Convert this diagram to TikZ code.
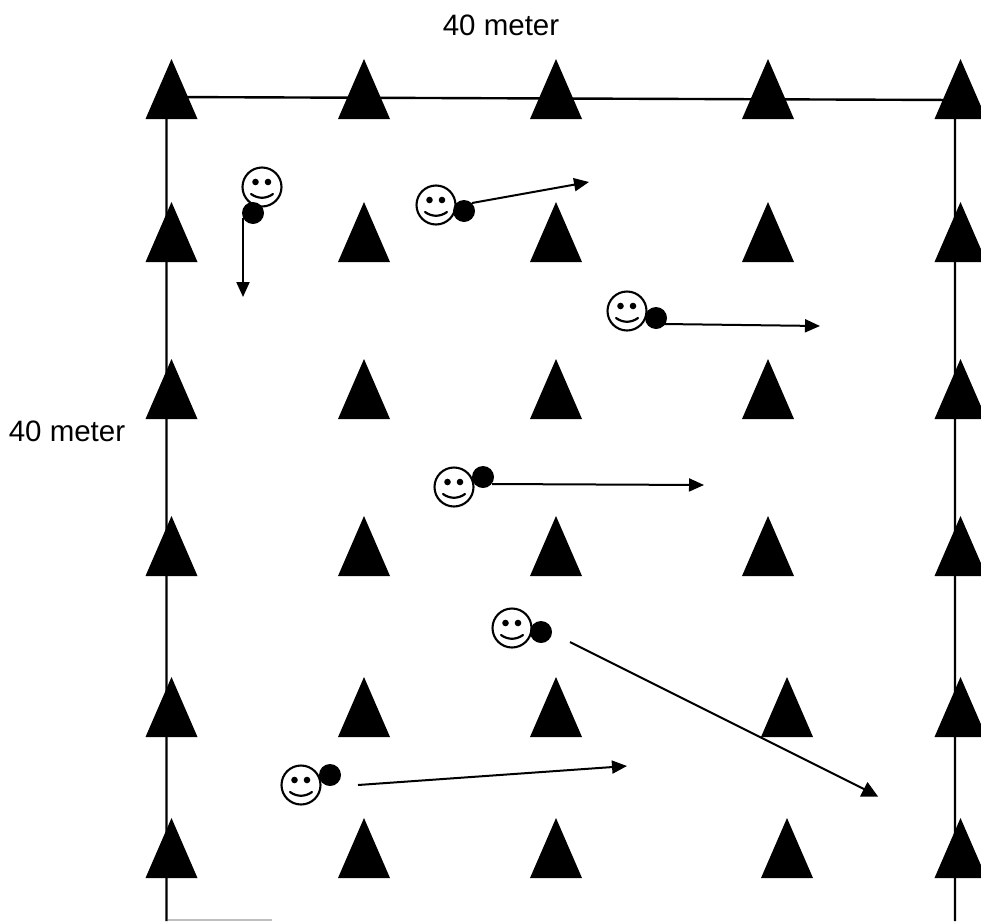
\documentclass[tikz,border=0pt]{standalone}
\usepackage{fontspec}
\setmainfont{Liberation Sans}
\usetikzlibrary{arrows.meta}
\tikzset{
  rule/.style={line width=2.4pt,black},
  mover/.style={line width=2pt,black,-{Triangle[length=15pt,width=13pt]}},
  mover plain/.style={line width=2pt,black},
  face/.style={circle,draw=black,fill=white,line width=2.1pt,minimum size=39pt,inner sep=0pt},
  ball/.style={circle,fill=black,minimum size=22pt,inner sep=0pt},
  cone/.style={fill=black},
  lbl/.style={font=\fontsize{29.5pt}{33pt}\selectfont,inner sep=0pt,text=black}
}
\newcommand{\conemark}[2]{\fill[cone] (#1-26,#2) -- (#1,#2-60) -- (#1+26,#2) -- cycle;}
\newcommand{\smiley}[3]{%
  \node[face] (#1) at (#2,#3) {};
  \fill (#2-6.5,#3-5) circle (3.3pt);
  \fill (#2+6,#3-5) circle (3.3pt);
  \draw[line width=2.2pt,line cap=round,black] (#2-11,#3+7) .. controls (#2-4,#3+12) and (#2+4,#3+12) .. (#2+11,#3+7);
}
\begin{document}
\begin{tikzpicture}[x=1pt,y=-1pt]
\useasboundingbox (0,0) rectangle (981,921);
\fill[white] (0,0) rectangle (981,921);
% named corners
\coordinate (tl) at (166.5,97);
\coordinate (tr) at (955,100);
\coordinate (bl) at (166.5,921);
\coordinate (br) at (955,921);
\draw[rule] (bl) -- (tl) -- (tr) -- (br);
\draw[black!25,line width=1.5pt] (168,920) -- (272,920);
% cones
\foreach \y in {119,262,419,576}{
  \foreach \x in {171.5,364,556,768,960.5}{\conemark{\x}{\y}}
}
\foreach \y in {737,878}{
  \foreach \x in {171.5,364,556,787,960.5}{\conemark{\x}{\y}}
}
% labels
\node[lbl] (topl) at (501,25) {40 meter};
\node[lbl] (leftl) at (67,431) {40 meter};
% runners
\smiley{f1}{262}{187}
\node[ball] (b1) at (253,213) {};
\coordinate (s1) at (243,218);
\coordinate (e1) at (243,297);
\draw[mover] (s1) -- (e1);
\smiley{f2}{436}{205}
\node[ball] (b2) at (464,211) {};
\coordinate (s2) at (472,203);
\coordinate (e2) at (589,182);
\draw[mover] (s2) -- (e2);
\smiley{f3}{627}{311}
\node[ball] (b3) at (656,318) {};
\coordinate (s3) at (664,324);
\coordinate (e3) at (820,326);
\draw[mover] (s3) -- (e3);
\smiley{f4}{454}{487}
\node[ball] (b4) at (483,477) {};
\coordinate (s4) at (492,484);
\coordinate (e4) at (704,485);
\draw[mover] (s4) -- (e4);
\smiley{f5}{512}{628}
\node[ball] (b5) at (541,632) {};
\coordinate (s5) at (570,642);
\coordinate (e5) at (870,792);
\draw[mover plain] (s5) -- (e5);
\fill[black] (860,796.5) -- (878,796.5) -- (867.5,782) -- cycle;
\smiley{f6}{301}{785}
\node[ball] (b6) at (330,775) {};
\coordinate (s6) at (358,785);
\coordinate (e6) at (627,766);
\draw[mover] (s6) -- (e6);
\end{tikzpicture}
\end{document}
